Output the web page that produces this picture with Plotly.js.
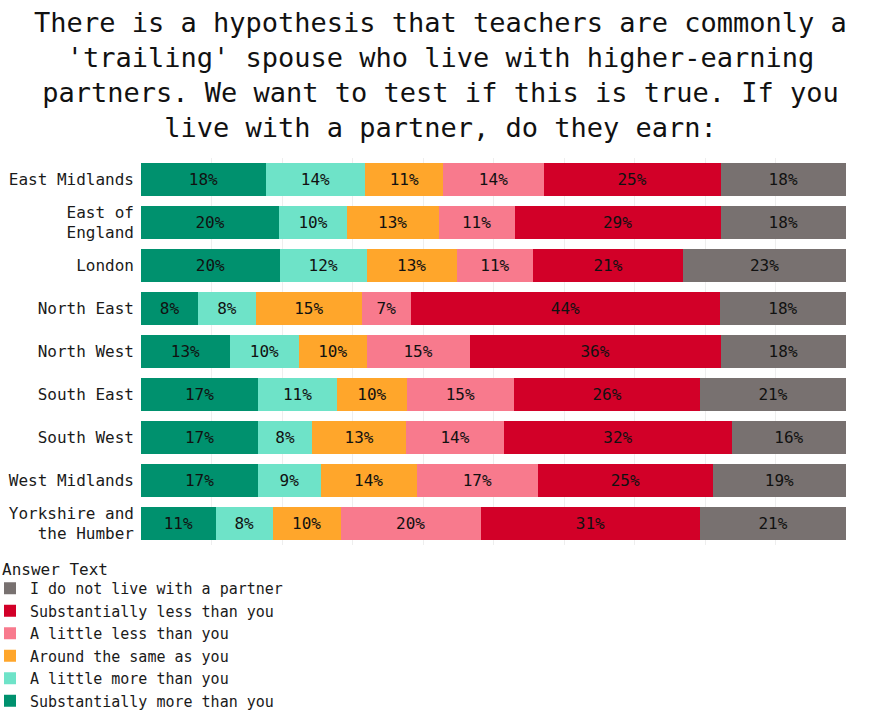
<!DOCTYPE html>
<html>
<head>
<meta charset="utf-8">
<script src="https://cdn.plot.ly/plotly-3.0.1.min.js"></script>
<style>html,body{margin:0;padding:0;background:#fff;}#chart{width:881px;height:711px;}</style>
</head>
<body>
<div id="chart"></div>
<script>
const regions = ["East Midlands", "East of<br>England", "London", "North East", "North West", "South East", "South West", "West Midlands", "Yorkshire and<br>the Humber"];

const substantiallyMore = [0.177, 0.196, 0.197, 0.081, 0.126, 0.166, 0.166, 0.166, 0.106];
const littleMore        = [0.141, 0.096, 0.123, 0.082, 0.098, 0.112, 0.077, 0.089, 0.081];
const aroundSame        = [0.111, 0.130, 0.128, 0.150, 0.096, 0.099, 0.133, 0.136, 0.096];
const littleLess        = [0.142, 0.108, 0.108, 0.070, 0.146, 0.152, 0.139, 0.172, 0.199];
const substantiallyLess = [0.251, 0.292, 0.213, 0.438, 0.356, 0.264, 0.323, 0.248, 0.311];
const noPartner         = [0.178, 0.178, 0.231, 0.179, 0.178, 0.207, 0.162, 0.189, 0.207];

const seriesNames = ["Substantially more than you", "A little more than you", "Around the same as you", "A little less than you", "Substantially less than you", "I do not live with a partner"];
const seriesValues = [substantiallyMore, littleMore, aroundSame, littleLess, substantiallyLess, noPartner];
const seriesColors = ["#00916e", "#6ee3c8", "#ffa62b", "#f87a8d", "#d20028", "#787170"];

const font = "DejaVu Sans Mono, monospace";

const traces = seriesNames.map((name, i) => ({
  type: "bar",
  orientation: "h",
  name: name,
  y: regions,
  x: seriesValues[i],
  marker: {color: seriesColors[i]},
  texttemplate: "%{x:.0%}",
  textposition: "inside",
  insidetextanchor: "middle",
  textangle: 0,
  insidetextfont: {family: font, size: 16, color: "#111111"},
  hoverinfo: "skip"
}));

const layout = {
  width: 881,
  height: 711,
  barmode: "stack",
  bargap: 0.25,
  paper_bgcolor: "#ffffff",
  plot_bgcolor: "#ffffff",
  font: {family: font, size: 16, color: "#1a1a1a"},
  title: {
    text: "There is a hypothesis that teachers are commonly a<br>'trailing' spouse who live with higher-earning<br>partners. We want to test if this is true. If you<br>live with a partner, do they earn:",
    font: {family: font, size: 27, color: "#111"},
    x: 0.5,
    xanchor: "center",
    xref: "container",
    y: 0.955,
    yanchor: "top",
    yref: "container"
  },
  margin: {l: 141, r: 35, t: 158, b: 166, pad: 0, autoexpand: false},
  xaxis: {
    range: [0, 1],
    showticklabels: false,
    showgrid: true,
    gridcolor: "#eeeeee",
    dtick: 0.1,
    zeroline: false,
    fixedrange: true
  },
  yaxis: {
    autorange: "reversed",
    showgrid: true,
    gridcolor: "#f4f4f4",
    ticks: "",
    ticklabelstandoff: 6,
    automargin: false,
    tickfont: {family: font, size: 16, color: "#1a1a1a"},
    fixedrange: true
  },
  annotations: [{
    text: "Answer Text",
    xref: "paper", yref: "paper",
    x: -141 / 705, xanchor: "left",
    y: (545 - 569) / 387, yanchor: "middle",
    showarrow: false,
    font: {family: font, size: 16, color: "#1a1a1a"}
  }],
  showlegend: true,
  legend: {
    font: {family: font, size: 15, color: "#1a1a1a"},
    traceorder: "reversed",
    orientation: "v",
    xref: "paper",
    x: (-141 - 10) / 705,
    xanchor: "left",
    yref: "paper",
    y: (545 - 572) / 387,
    yanchor: "top",
    itemwidth: 30,
    tracegroupgap: 0,
    bgcolor: "rgba(0,0,0,0)"
  }
};

Plotly.newPlot("chart", traces, layout, {staticPlot: true, displayModeBar: false});
</script>
</body>
</html>
